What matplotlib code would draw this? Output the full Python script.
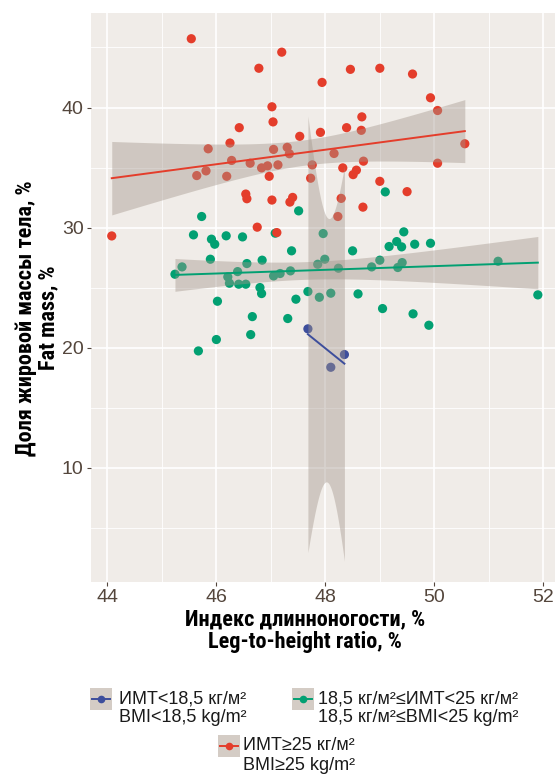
import numpy as np
import matplotlib
matplotlib.use("Agg")
import matplotlib.pyplot as plt
from matplotlib.patches import Rectangle
from matplotlib.lines import Line2D
from matplotlib import font_manager
from math import lgamma, exp, sqrt, pi

# ---------------- data ----------------
red_x = [45.54, 47.20, 46.78, 48.46, 49.00, 49.60, 47.94, 49.93, 50.06, 47.02,
         47.04, 48.67, 46.42, 48.39, 48.66, 47.91, 47.53, 46.25, 50.56, 45.85,
         47.05, 47.30, 47.34, 48.16, 46.28, 46.62, 47.13, 46.94, 46.83, 47.76,
         48.70, 50.06, 45.81, 45.64, 46.19, 46.97, 48.32, 48.57, 48.51, 47.73,
         49.00, 49.50, 46.54, 46.56, 47.02, 47.40, 47.35, 48.29, 48.69, 48.23,
         46.75, 47.11, 44.08]
red_y = [45.73, 44.61, 43.27, 43.18, 43.27, 42.79, 42.09, 40.81, 39.75, 40.06,
         38.80, 39.22, 38.32, 38.32, 38.10, 37.93, 37.60, 37.04, 36.98, 36.56,
         36.51, 36.68, 36.15, 36.17, 35.59, 35.36, 35.22, 35.14, 34.97, 35.22,
         35.53, 35.36, 34.72, 34.33, 34.27, 34.27, 34.97, 34.78, 34.41, 34.11,
         33.85, 32.99, 32.79, 32.40, 32.29, 32.51, 32.12, 32.43, 31.70, 30.92,
         30.03, 29.58, 29.30]

green_x = [45.73, 47.51, 49.10, 45.58, 45.91, 45.97, 46.18, 46.48, 47.08, 47.96,
           49.44, 49.31, 49.17, 49.40, 49.64, 49.93, 47.38, 48.50, 45.89, 46.84,
           47.99, 49.00, 49.41, 45.37, 46.56, 47.86, 51.17, 45.24, 46.39, 46.21,
           47.36, 48.24, 48.85, 49.33, 47.17, 47.05, 46.24, 46.41, 46.54, 46.80,
           46.83, 47.68, 47.89, 48.10, 48.60, 51.90, 46.02, 47.46, 49.05, 46.66,
           47.31, 49.61, 49.90, 46.63, 46.00, 45.67]
green_y = [30.92, 31.39, 32.97, 29.39, 29.03, 28.61, 29.31, 29.22, 29.53, 29.50,
           29.64, 28.83, 28.42, 28.39, 28.61, 28.69, 28.06, 28.06, 27.36, 27.28,
           27.36, 27.28, 27.08, 26.72, 27.00, 26.94, 27.19, 26.11, 26.33, 25.89,
           26.39, 26.61, 26.72, 26.67, 26.17, 25.97, 25.36, 25.28, 25.28, 25.00,
           24.50, 24.67, 24.19, 24.53, 24.47, 24.39, 23.86, 24.03, 23.25, 22.58,
           22.42, 22.81, 21.86, 21.08, 20.67, 19.72]

blue_x = [47.68, 48.35, 48.10]
blue_y = [21.56, 19.42, 18.36]

x_ticks = [44, 46, 48, 50, 52]
y_ticks = [10, 20, 30, 40]

labels = [("ИМТ<18,5 кг/м²", "BMI<18,5 kg/m²"),
          ("18,5 кг/м²≤ИМТ<25 кг/м²", "18,5 кг/м²≤BMI<25 kg/m²"),
          ("ИМТ≥25 кг/м²", "BMI≥25 kg/m²")]

c_blue = "#3D4E9C"
c_green = "#02A072"
c_red = "#E43D2B"
bg = "#F0ECE8"
band_col = "#A3968B"
key_col = "#D4CCC5"
tick_col = "#54463C"

W, H = 555, 775
fig = plt.figure(figsize=(W / 100, H / 100), dpi=100)
fig.patch.set_facecolor("white")

installed = {f.name for f in font_manager.fontManager.ttflist}
if "Liberation Sans Narrow" in installed:
    title_fam = ["Liberation Sans Narrow", "DejaVu Sans"]
    title_size = 16
elif "Roboto Condensed" in installed:
    title_fam = ["Roboto Condensed", "DejaVu Sans"]
    title_size = 16
else:
    title_fam = ["Roboto", "Liberation Sans", "DejaVu Sans"]
    title_size = 14


def t975(df):
    c = exp(lgamma((df + 1) / 2) - lgamma(df / 2)) / sqrt(df * pi)
    g = np.linspace(0, 80, 800001)
    pdf = c * (1 + g ** 2 / df) ** (-(df + 1) / 2)
    cdf = 0.5 + np.concatenate([[0], np.cumsum((pdf[1:] + pdf[:-1]) / 2 * np.diff(g))])
    return float(np.interp(0.975, cdf, g))


def smooth(x, y):
    x = np.asarray(x, float)
    y = np.asarray(y, float)
    n = len(x)
    xb = x.mean()
    sxx = ((x - xb) ** 2).sum()
    b = ((x - xb) * (y - y.mean())).sum() / sxx
    a = y.mean() - b * xb
    res = y - (a + b * x)
    s = sqrt((res ** 2).sum() / (n - 2))
    xs = np.linspace(x.min(), x.max(), 80)
    fit = a + b * xs
    se = s * np.sqrt(1 / n + (xs - xb) ** 2 / sxx)
    t = t975(n - 2)
    return xs, fit, fit - t * se, fit + t * se


def px2fig(px, py):
    return px / W, 1 - py / H


# panel
left, right = 90.5 / W, 1.0
bottom, top = 1 - 582 / H, 1 - 13.4 / H
ax = fig.add_axes([left, bottom, right - left, top - bottom])
ax.set_facecolor(bg)
ax.set_xlim(43.69, 52.215)
ax.set_ylim(0.47, 47.84)
for s in ax.spines.values():
    s.set_visible(False)

for v in [45, 47, 49, 51]:
    ax.axvline(v, color="white", lw=0.6, zorder=0)
for v in [5, 15, 25, 35, 45]:
    ax.axhline(v, color="white", lw=0.6, zorder=0)
for v in x_ticks:
    ax.axvline(v, color="white", lw=1.2, zorder=0)
for v in y_ticks:
    ax.axhline(v, color="white", lw=1.2, zorder=0)

groups = [(blue_x, blue_y, c_blue), (green_x, green_y, c_green), (red_x, red_y, c_red)]
for gx, gy, col in groups:
    ax.scatter(gx, gy, s=44, color=col, edgecolors="none", zorder=2)
for gx, gy, col in groups:
    xs, fit, lo, hi = smooth(gx, gy)
    ax.fill_between(xs, lo, hi, color=band_col, alpha=0.42, lw=0, zorder=3)
    ax.plot(xs, fit, color=col, lw=1.4, zorder=4)

ax.set_xticks(x_ticks)
ax.set_yticks(y_ticks)
ax.set_xticklabels([str(v) for v in x_ticks])
ax.set_yticklabels([str(v) for v in y_ticks])
ax.tick_params(axis="both", length=3, width=0.8, color=tick_col, labelcolor=tick_col,
               labelsize=14, pad=2)
for lab in ax.get_xticklabels() + ax.get_yticklabels():
    lab.set_family(["Liberation Sans", "DejaVu Sans"])

fx, fy = px2fig(305, 631)
fig.text(fx, fy, "Индекс длинноногости, %\nLeg-to-height ratio, %", ha="center", va="center",
         fontsize=title_size, fontweight="bold", family=title_fam, linespacing=1.05)
fx, fy = px2fig(37, 318)
fig.text(fx, fy, "Доля жировой массы тела, %\nFat mass, %", ha="center", va="center",
         rotation=90, fontsize=title_size, fontweight="bold", family=title_fam, linespacing=1.05)

# legend (manual)
leg_fam = ["Liberation Sans", "DejaVu Sans"]
keys = [(90, 699, c_blue, labels[0], 119),
        (292, 699, c_green, labels[1], 318),
        (218, 746, c_red, labels[2], 243)]
for kx, ky, col, (l1, l2), tx in keys:
    x0, y0 = px2fig(kx, ky + 11)
    fig.add_artist(Rectangle((x0, y0), 22 / W, 22 / H, transform=fig.transFigure,
                             facecolor=key_col, edgecolor="none"))
    lx0, ly = px2fig(kx + 2, ky)
    lx1, _ = px2fig(kx + 20, ky)
    fig.add_artist(Line2D([lx0, lx1], [ly, ly], transform=fig.transFigure, color=col, lw=1.4))
    cx, _ = px2fig(kx + 11, ky)
    fig.add_artist(Line2D([cx], [ly], transform=fig.transFigure, color=col, marker="o",
                          markersize=5.5, markeredgewidth=0))
    fx, fy = px2fig(tx, ky)
    fig.text(fx, fy, l1, ha="left", va="center", fontsize=13, family=leg_fam, color="#1a1a1a")
    fx, fy = px2fig(tx, ky + 19)
    fig.text(fx, fy, l2, ha="left", va="center", fontsize=13, family=leg_fam, color="#1a1a1a")

fig.savefig("out.png", dpi=100)
